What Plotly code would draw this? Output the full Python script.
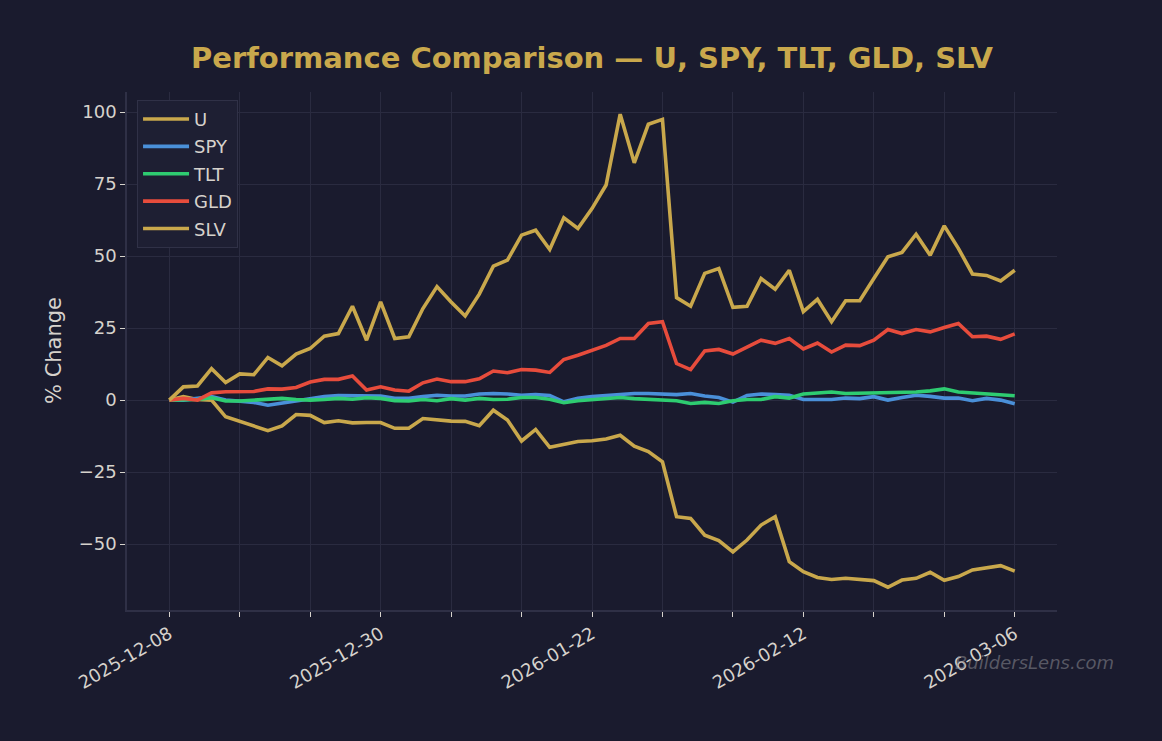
import plotly.graph_objects as go

dates = [
    "2025-12-08", "2025-12-09", "2025-12-10", "2025-12-11", "2025-12-12",
    "2025-12-15", "2025-12-16", "2025-12-17", "2025-12-18", "2025-12-19",
    "2025-12-22", "2025-12-23", "2025-12-24", "2025-12-26", "2025-12-29",
    "2025-12-30", "2025-12-31", "2026-01-02", "2026-01-05", "2026-01-06",
    "2026-01-07", "2026-01-08", "2026-01-09", "2026-01-12", "2026-01-13",
    "2026-01-14", "2026-01-15", "2026-01-16", "2026-01-20", "2026-01-21",
    "2026-01-22", "2026-01-23", "2026-01-26", "2026-01-27", "2026-01-28",
    "2026-01-29", "2026-01-30", "2026-02-02", "2026-02-03", "2026-02-04",
    "2026-02-05", "2026-02-06", "2026-02-09", "2026-02-10", "2026-02-11",
    "2026-02-12", "2026-02-13", "2026-02-17", "2026-02-18", "2026-02-19",
    "2026-02-20", "2026-02-23", "2026-02-24", "2026-02-25", "2026-02-26",
    "2026-02-27", "2026-03-02", "2026-03-03", "2026-03-04", "2026-03-05",
    "2026-03-06",
]

u_vals = [0, 1.2, 0.2, 0, -5.8, -7.5, -8.9, -10.6, -9.0, -5.0, -5.3, -7.8, -7.2, -7.9,
          -7.8, -7.8, -9.8, -9.8, -6.4, -6.9, -7.3, -7.4, -8.9, -3.5, -6.9, -14.2, -10.2,
          -16.4, -15.3, -14.4, -14.1,
          -13.5, -12.2, -16.0, -17.9, -21.4, -40.5, -41.1, -46.9, -48.8, -52.7, -48.6,
          -43.4, -40.5, -56.1, -59.6, -61.6,
          -62.3, -61.9, -62.2, -62.7, -65.0, -62.5, -61.9, -59.8, -62.6, -61.3, -59.0,
          -58.2, -57.5, -59.4]

spy_vals = [0, 0, 0.6, 1.2, 0, -0.3, -0.8, -1.8, -1.1, -0.3, 0.6, 1.2, 1.6, 1.6,
            1.4, 1.4, 0.6, 0.6, 1.2, 1.7, 1.4, 1.4, 2.1, 2.3, 2.1, 1.7, 1.9, 1.6, -0.6,
            0.6, 1.2,
            1.6, 2.0, 2.3, 2.3, 2.1, 1.9, 2.3, 1.4, 0.9, -0.7, 1.6, 2.1, 1.9, 1.7, 0.2, 0.1,
            0.2, 0.7, 0.5, 1.2, 0, 0.9, 1.7, 1.3, 0.7, 0.7, -0.2, 0.6, 0, -1.3]

tlt_vals = [0, 0.2, 0.2, 0.8, -0.3, -0.3, 0, 0.2, 0.6, 0.2, 0, 0.2, 0.6, 0.3,
            0.8, 0.6, -0.2, -0.3, 0.2, -0.2, 0.5, 0, 0.6, 0.2, 0.3, 0.9, 0.9, 0.3, -0.9,
            -0.2, 0.2,
            0.6, 0.9, 0.5, 0.2, 0.2, -0.2, -1.2, -0.8, -1.2, -0.2, 0.2, 0.2, 1.2, 0.7,
            2.1, 2.5,
            2.8, 2.3, 2.4, 2.3, 2.7, 2.7, 2.8, 3.2, 3.9, 2.8, 2.5, 2.3, 1.9, 1.5]

gld_vals = [0, 0.6, 0, 2.5, 2.9, 3.0, 3.0, 3.9, 3.8, 4.4, 6.3, 7.2, 7.2, 8.4,
            3.5, 4.6, 3.5, 3.1, 6.0, 7.3, 6.4, 6.4, 7.4, 10.1, 9.5, 10.6, 10.4, 9.6,
            14.1, 15.6, 17.3,
            19.0, 21.4, 21.4, 26.6, 27.2, 12.7, 10.6, 17.1, 17.6, 16.0, 18.5, 20.8, 19.7,
            21.4, 17.8, 19.8,
            16.7, 19.1, 18.9, 20.8, 24.5, 23.1, 24.5, 23.7, 25.2, 26.6, 22.0, 22.2, 21.1,
            23.0]

slv_vals = [0, 4.6, 4.9, 10.9, 6.1, 9.1, 8.8, 14.8, 11.9, 16.0, 17.9, 22.2, 23.1, 32.6,
            20.8, 34.1, 21.4, 22.0, 31.8, 39.4, 34.1, 29.2, 36.8, 46.5, 48.6, 57.3, 59.0,
            52.3, 63.3, 59.6, 66.5,
            74.7, 99.3, 82.4, 95.8, 97.5, 35.6, 32.6, 44.0, 45.7, 32.2, 32.6, 42.2, 38.5,
            45.1, 30.7, 35.0,
            27.2, 34.5, 34.5, 42.2, 49.8, 51.3, 57.6, 50.3, 60.5, 52.7, 43.8, 43.3, 41.4,
            45.1]

series_names = ["U", "SPY", "TLT", "GLD", "SLV"]
series_values = [u_vals, spy_vals, tlt_vals, gld_vals, slv_vals]
series_colors = ["#c9a84c", "#4a90d9", "#2ecc71", "#e74c3c", "#c9a84c"]

y_tick_vals = [-50, -25, 0, 25, 50, 75, 100]
x_tick_vals = dates[::5]
x_tick_text = [d if i % 3 == 0 else "" for i, d in enumerate(x_tick_vals)]

BG = "#1a1b2e"
GRID = "#2a2b40"
SPINE = "#2f3046"
TXT = "#d6d2cc"
GOLD = "#c9a84c"

fig = go.Figure()
for name, vals, col in zip(series_names, series_values, series_colors):
    fig.add_trace(go.Scatter(
        x=dates, y=vals, mode="lines", name=name, legendgroup=name,
        line=dict(color=col, width=3.6),
    ))

fig.update_layout(
    width=1162, height=741,
    paper_bgcolor=BG, plot_bgcolor=BG,
    margin=dict(l=127, r=105, t=92, b=131),
    font=dict(family="DejaVu Sans", color=TXT, size=18),
    title=dict(
        text="<b>Performance Comparison — U, SPY, TLT, GLD, SLV</b>",
        font=dict(family="DejaVu Sans", size=29, color=GOLD),
        x=0.5, xref="paper", xanchor="center",
        y=1 - 58 / 741, yref="container", yanchor="middle",
    ),
    showlegend=True,
    legend=dict(
        x=0.0108, y=0.985, xanchor="left", yanchor="top",
        bgcolor="#1e1f33", bordercolor="#303147", borderwidth=1,
        font=dict(family="DejaVu Sans", size=18, color=TXT),
        tracegroupgap=1, itemwidth=46,
    ),
    xaxis=dict(
        type="category", range=[-3, 63],
        tickmode="array", tickvals=x_tick_vals, ticktext=x_tick_text,
        tickangle=-30,
        showgrid=True, gridcolor=GRID, gridwidth=1,
        showline=True, linecolor=SPINE, linewidth=1.5,
        ticks="outside", ticklen=5, tickcolor=TXT, tickwidth=1.2,
        tickfont=dict(family="DejaVu Sans", size=18, color=TXT),
        zeroline=False,
    ),
    yaxis=dict(
        range=[-72.9, 107.0],
        tickmode="array", tickvals=y_tick_vals,
        showgrid=True, gridcolor=GRID, gridwidth=1,
        showline=True, linecolor=SPINE, linewidth=1.5,
        ticks="outside", ticklen=5, tickcolor=TXT, tickwidth=1.2,
        tickfont=dict(family="DejaVu Sans", size=18, color=TXT),
        zeroline=False,
    ),
    annotations=[
        dict(
            text="% Change", textangle=-90,
            xref="paper", yref="paper", x=(54 - 127) / 930, y=(610 - 351) / 518,
            xanchor="center", yanchor="middle", showarrow=False,
            font=dict(family="DejaVu Sans", size=21, color=TXT),
        ),
        dict(
            text="<i>BuildersLens.com</i>",
            xref="paper", yref="paper", x=(1116 - 127) / 930, y=(610 - 662) / 518,
            xanchor="right", yanchor="middle", showarrow=False,
            font=dict(family="DejaVu Sans", size=18, color="rgba(130,130,138,0.6)"),
        ),
    ],
)

fig.write_html("out.html")
